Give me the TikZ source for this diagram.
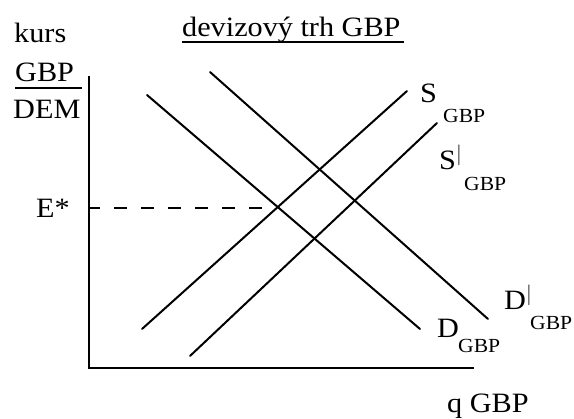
\documentclass[tikz,border=0pt]{standalone}
\usepackage{fontspec}
\setmainfont[FakeStretch=1.08]{Liberation Serif}
\begin{document}
\begin{tikzpicture}[x=1pt,y=-1pt,
  curve/.style={line width=2pt,line cap=round},
  axis/.style={line width=2pt},
  lbl/.style={inner sep=0pt,font=\fontsize{28}{30}\selectfont},
  sub/.style={inner sep=0pt,font=\fontsize{20}{22}\selectfont}]
\useasboundingbox (0,0) rectangle (574,419);
% axes
\coordinate (O) at (89,368);
\coordinate (ytop) at (89,76);
\coordinate (xend) at (474,368);
\draw[axis] (ytop) -- (O) -- (xend);
% curves
\coordinate (D1) at (147,95);  \coordinate (D2) at (420,329);
\coordinate (Dp1) at (210,72); \coordinate (Dp2) at (488,319);
\coordinate (S1) at (142,329); \coordinate (S2) at (407,91);
\coordinate (Sp1) at (190,356);\coordinate (Sp2) at (437,123);
\draw[curve] (D1) -- (D2);
\draw[curve] (Dp1) -- (Dp2);
\draw[curve] (S1) -- (S2);
\draw[curve] (Sp1) -- (Sp2);
% dashed equilibrium line
\coordinate (Ey) at (89,208);
\coordinate (Ex) at (277,208);
\draw[line width=1.5pt,dash pattern=on 13pt off 14pt,dash phase=2pt] (Ey) -- (Ex);
% texts
\node[lbl,anchor=base west] (kurs) at (14,43) {kurs};
\node[lbl,anchor=base west] (title) at (182,37) {devizový trh GBP};
\draw[line width=2pt] ([yshift=-5pt]title.base west) -- ([yshift=-5pt,xshift=3pt]title.base east);
\node[lbl,anchor=base west] (gbp) at (15,82) {GBP};
\coordinate (fr1) at (15,88); \coordinate (fr2) at (82,88);
\draw[line width=1.5pt] (fr1) -- (fr2);
\node[lbl,anchor=base west] (dem) at (13,119) {DEM};
\node[lbl,anchor=base west] (E) at (36,218) {E*};
\node[lbl,anchor=base west] (S) at (420,103) {S};
\node[sub,anchor=base west] (Ssub) at (443,123) {GBP};
\node[lbl,anchor=base west] (Sp) at (439,170) {S\textsuperscript{\fontsize{20}{20}\selectfont$\vert$}};
\node[sub,anchor=base west] (Spsub) at (464,191) {GBP};
\node[lbl,anchor=base west] (D) at (437,338) {D};
\node[sub,anchor=base west] (Dsub) at (458,353) {GBP};
\node[lbl,anchor=base west] (Dp) at (504,310) {D\textsuperscript{\fontsize{20}{20}\selectfont$\vert$}};
\node[sub,anchor=base west] (Dpsub) at (530,330) {GBP};
\node[lbl,anchor=base west] (q) at (447,413) {q GBP};
\end{tikzpicture}
\end{document}
